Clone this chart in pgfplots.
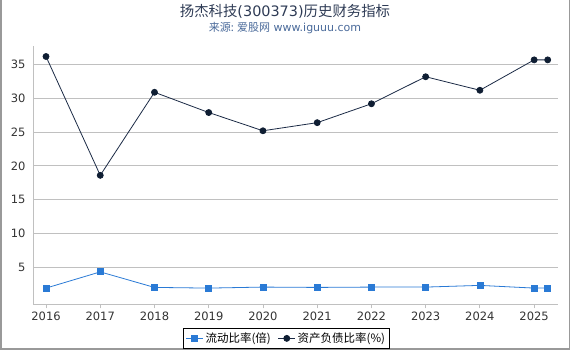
\documentclass[border=0pt]{standalone}
\usepackage{fontspec}
\setmainfont{DejaVu Sans}
\newfontfamily\cjk{Noto Sans CJK SC}
\usepackage{pgfplots}
\pgfplotsset{compat=1.18}
\definecolor{titlec}{HTML}{2E3B55}
\definecolor{subc}{HTML}{4A6A9A}
\definecolor{debtc}{HTML}{1B2A45}
\definecolor{debtm}{HTML}{0F1E33}
\definecolor{curc}{HTML}{2A7AD5}
\definecolor{gridc}{HTML}{C0C0C0}
\definecolor{tickc}{HTML}{333333}
\begin{document}
\begin{tikzpicture}
\useasboundingbox (0pt,0pt) rectangle (570pt,350pt);
\draw[gray!80, line width=1.5pt] (0.75pt,350pt) -- (0.75pt,0.75pt) -- (569.25pt,0.75pt) -- (569.25pt,350pt);
\node[text=titlec, font=\fontsize{14.4}{16}\selectfont] at (285pt,339pt) {{\cjk 扬杰科技}(300373){\cjk 历史财务指标}};
\node[text=subc, font=\fontsize{11}{13}\selectfont] at (285pt,322pt) {{\cjk 来源: 爱股网} www.iguuu.com};
\begin{axis}[
  at={(33pt,45.7pt)}, anchor=south west,
  scale only axis, width=525pt, height=258.6pt,
  xmin=2015.76, xmax=2025.44,
  ymin=-0.5, ymax=37.8,
  xtick={2016,...,2025},
  xticklabel style={/pgf/number format/1000 sep={}},
  ytick={5,10,...,35},
  /pgf/number format/assume math mode=true,
  tick label style={font=\fontsize{11.5}{13}\selectfont, text=tickc},
  axis x line*=bottom, axis y line*=left,
  axis line style={gridc, line width=0.8pt},
  x axis line style={-}, y axis line style={-},
  ymajorgrids, grid style={gridc, line width=0.8pt},
  major tick length=4pt,
  xtick style={gridc, line width=0.8pt},
  ytick style={draw=none},
  xtick pos=bottom, tick align=outside,
  clip=false,
  legend style={at={(0.4826,-0.093)}, anchor=north, draw=black, line width=0.8pt,
    legend columns=2, font=\fontsize{11.5}{13}\selectfont\cjk, inner sep=2pt,
    /tikz/every even column/.append style={column sep=5pt}},
  legend cell align=left,
]
\addplot[curc, line width=0.8pt, mark=square*, mark size=3pt, mark options={fill=curc, draw=curc}]
 coordinates {(2016,1.9) (2017,4.3) (2018,2.0) (2019,1.9) (2020,2.05) (2021,2.0) (2022,2.05) (2023,2.05) (2024,2.3) (2025,1.9) (2025.25,1.9)};
\addlegendentry{流动比率(倍)}
\addplot[debtc, line width=0.8pt, mark=*, mark size=3pt, mark options={fill=debtm, draw=debtm}]
 coordinates {(2016,36.2) (2017,18.6) (2018,30.9) (2019,27.9) (2020,25.2) (2021,26.4) (2022,29.2) (2023,33.2) (2024,31.2) (2025,35.7) (2025.25,35.7)};
\addlegendentry{资产负债比率(\%)}
\end{axis}
\end{tikzpicture}
\end{document}
